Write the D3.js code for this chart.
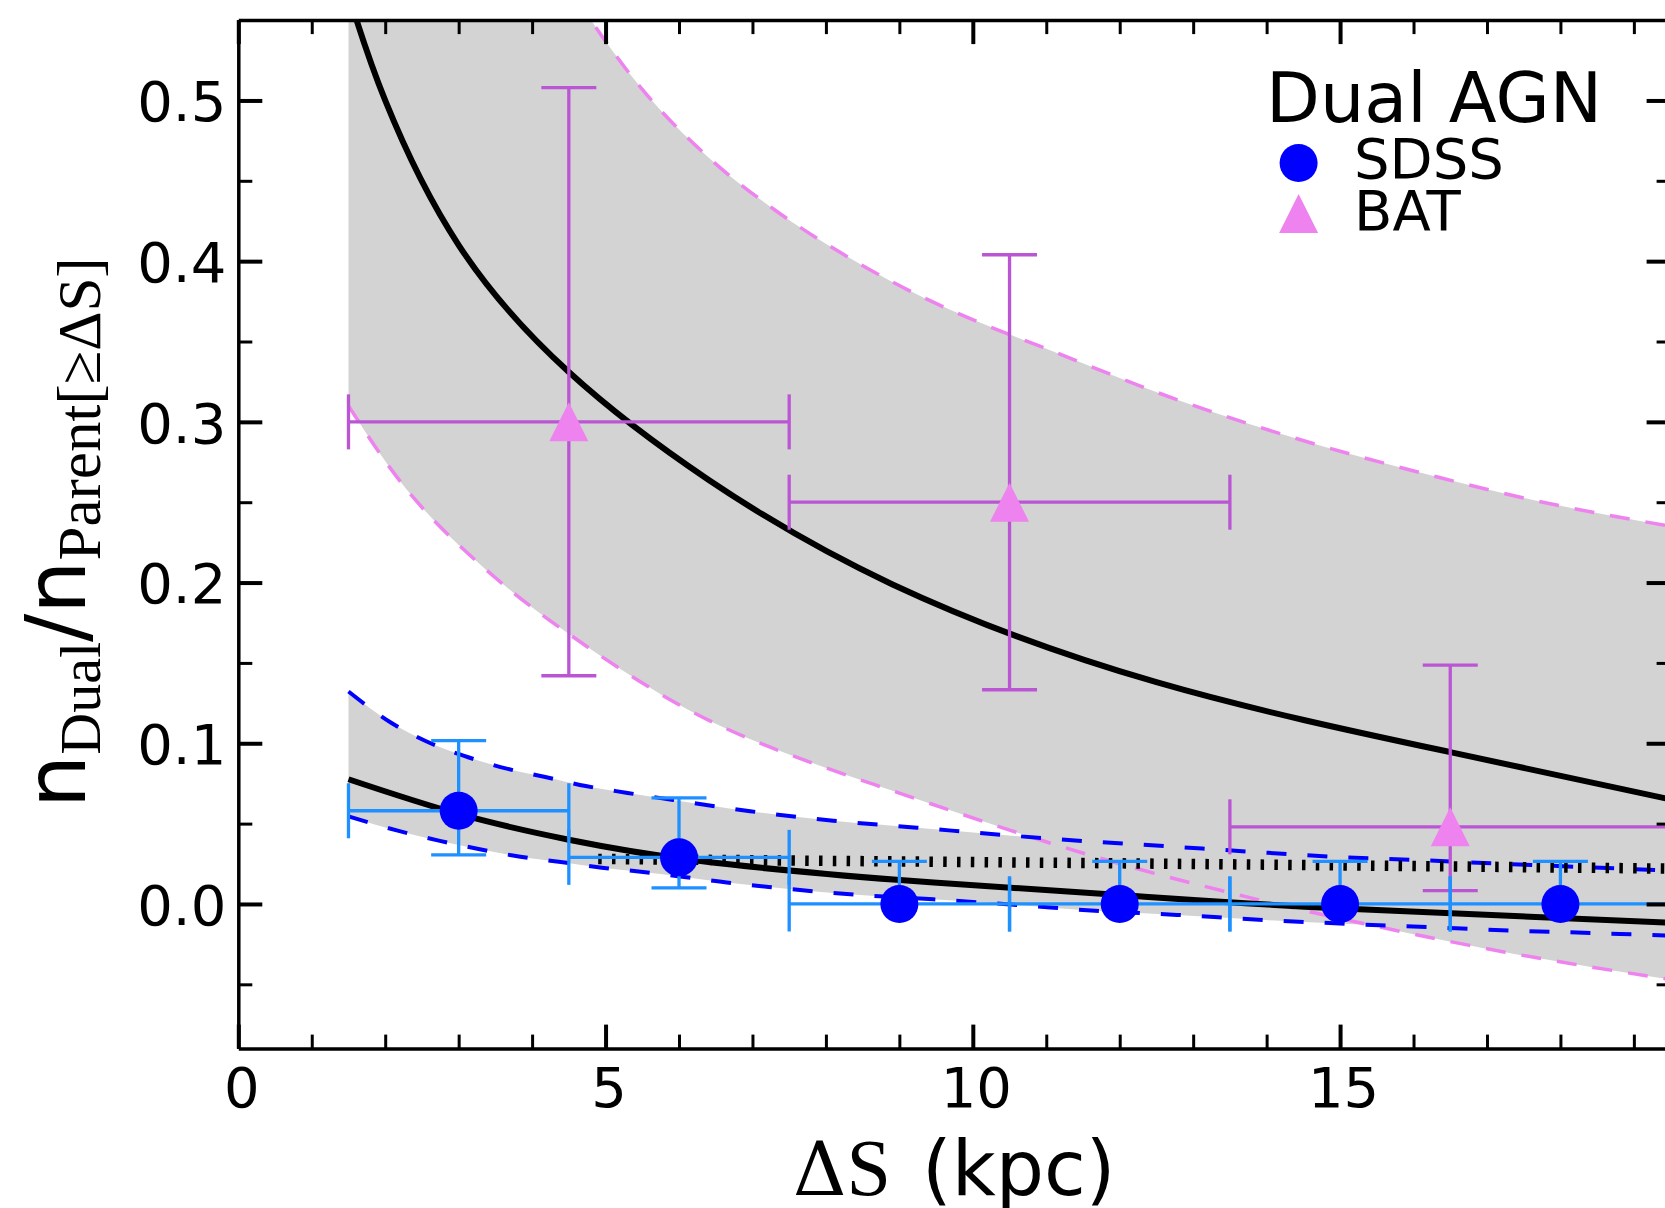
<!DOCTYPE html>
<html><head><meta charset="utf-8">
<script src="https://cdn.jsdelivr.net/npm/d3@7"></script>
<style>body{margin:0;background:#fff}svg{display:block}</style>
</head><body>
<svg id="c" width="1665" height="1208"></svg>
<script>
// ---------------- data ----------------
const sdssX = [3, 6, 9, 12, 15, 18];
const sdssY = [0.058, 0.029, 0, 0, 0, 0];
const sdssErrUp = [0.0437, 0.037, 0.0265, 0.0265, 0.0265, 0.0265];
const sdssErrDown = [0.0275, 0.019, 0, 0, 0, 0];
const sdssXErr = [1.5, 1.5, 1.5, 1.5, 1.5, 1.5];

const batX = [4.5, 10.5, 16.5];
const batY = [0.30, 0.25, 0.048];
const batErrUp = [0.208, 0.154, 0.1006];
const batErrDown = [0.158, 0.1167, 0.0397];
const batXErr = [3, 3, 3];

const batFitX = [1.5, 2.0, 3.0, 4.5, 6.4, 8.9, 12.5, 16.5, 19.5];
const batFitY = [0.566, 0.5, 0.41, 0.331, 0.264, 0.199, 0.138, 0.0945, 0.065];

const batBandHiX = [1.5, 2.0, 3.0, 4.0, 4.8, 5.48, 6.39, 7.3, 8.21, 9.12, 10.03, 10.94, 12.83, 14.45, 16.3, 17.66, 19.5];
const batBandHiY = [1.10, 0.90, 0.72, 0.61, 0.55, 0.508, 0.465, 0.432, 0.405, 0.382, 0.363, 0.3466, 0.313, 0.289, 0.266, 0.251, 0.235];
const batBandLoX = [1.5, 2.4, 3.5, 4.5, 6.0, 7.5, 9.0, 10.5, 12.0, 13.5, 15.0, 17.25, 19.5];
const batBandLoY = [0.31, 0.252, 0.203, 0.168, 0.124, 0.093, 0.069, 0.046, 0.025, 0.007, -0.009, -0.030, -0.047];

const sdssFitX = [1.5, 3.0, 4.5, 6.24, 9.01, 12.0, 14.95, 19.5];
const sdssFitY = [0.0776, 0.056, 0.040, 0.027, 0.0149, 0.0056, -0.0027, -0.0117];

const sdssBandHiX = [1.5, 2.07, 2.55, 3.13, 3.64, 4.18, 4.73, 5.30, 5.92, 6.97, 8.10, 9.24, 10.37, 11.50, 12.64, 13.75, 14.89, 16.02, 17.16, 18.29, 19.5];
const sdssBandHiY = [0.1322, 0.1131, 0.1014, 0.0913, 0.0844, 0.079, 0.0734, 0.0691, 0.0647, 0.0577, 0.0518, 0.0475, 0.0431, 0.0392, 0.0359, 0.0326, 0.0294, 0.0274, 0.0251, 0.023, 0.0207];
const sdssBandLoX = [1.5, 2.17, 2.73, 3.27, 3.84, 4.39, 4.95, 5.51, 6.04, 6.65, 7.22, 7.78, 8.33, 9.46, 10.6, 11.73, 12.78, 13.98, 15.11, 16.25, 17.38, 18.52, 19.5];
const sdssBandLoY = [0.0545, 0.0456, 0.0394, 0.0342, 0.0294, 0.0261, 0.0226, 0.0199, 0.017, 0.0133, 0.0106, 0.0081, 0.006, 0.0029, -0.0006, -0.0044, -0.0068, -0.01, -0.0124, -0.0145, -0.0166, -0.0182, -0.0197];

const dottedX = [4.9, 12.7, 19.5];
const dottedY = [0.0280, 0.0250, 0.0220];

const xMajorTicks = [0, 5, 10, 15];
const xMinorTicks = [1, 2, 3, 4, 6, 7, 8, 9, 11, 12, 13, 14, 16, 17, 18, 19];
const yMajorTicks = [0, 0.1, 0.2, 0.3, 0.4, 0.5];
const yMinorTicks = [-0.05, 0.05, 0.15, 0.25, 0.35, 0.45];
const legendTitle = "Dual AGN";
const legendLabels = ["SDSS", "BAT"];

// ---------------- drawing ----------------
const svg = d3.select("#c");
const x = d3.scaleLinear().domain([0, 19.5]).range([238.3, 1670.6]);
const y = d3.scaleLinear().domain([-0.09, 0.55]).range([1048.6, 20.1]);

svg.append("defs").append("clipPath").attr("id", "clip")
  .append("rect").attr("x", x(0)).attr("y", y(0.55))
  .attr("width", x(19.5) - x(0)).attr("height", y(-0.09) - y(0.55));
const plot = svg.append("g").attr("clip-path", "url(#clip)");

const pts = (xs, ys) => xs.map((v, i) => [v, ys[i]]);
const line = d3.line().x(d => x(d[0])).y(d => y(d[1])).curve(d3.curveMonotoneX);
const smooth = d3.line().x(d => x(d[0])).y(d => y(d[1])).curve(d3.curveNatural);
function band(up, lo, gu, gl) {
  const a = gu(up);
  const b = gl(lo.slice().reverse());
  return a + "L" + b.slice(1) + "Z";
}
const GRAY = "#d3d3d3";

// bands
plot.append("path").attr("d", band(pts(batBandHiX, batBandHiY), pts(batBandLoX, batBandLoY), line, smooth)).attr("fill", GRAY);
plot.append("path").attr("d", band(pts(sdssBandHiX, sdssBandHiY), pts(sdssBandLoX, sdssBandLoY), line, line)).attr("fill", GRAY);

// band edges
const dashedLine = (gen, xs, ys, color, w, dash) => plot.append("path").attr("d", gen(pts(xs, ys)))
  .attr("fill", "none").attr("stroke", color).attr("stroke-width", w).attr("stroke-dasharray", dash);
dashedLine(line, batBandHiX, batBandHiY, "#ee82ee", 3.5, "20 16");
dashedLine(smooth, batBandLoX, batBandLoY, "#ee82ee", 3.5, "20 16");
dashedLine(line, sdssBandHiX, sdssBandHiY, "#0000ff", 4, "20 21");
dashedLine(line, sdssBandLoX, sdssBandLoY, "#0000ff", 4, "20 21");

// fits
plot.append("path").attr("d", smooth(pts(batFitX, batFitY))).attr("fill", "none").attr("stroke", "#000").attr("stroke-width", 6);
plot.append("path").attr("d", smooth(pts(sdssFitX, sdssFitY))).attr("fill", "none").attr("stroke", "#000").attr("stroke-width", 6);
plot.append("path").attr("d", line(pts(dottedX, dottedY))).attr("fill", "none").attr("stroke", "#000")
  .attr("stroke-width", 10.5).attr("stroke-dasharray", "3.5 10.3");

// error bars
const CAP = 27.5;
function errorBars(xs, ys, up, down, xe, color) {
  const g = plot.append("g").attr("stroke", color).attr("stroke-width", 3.3).attr("fill", "none");
  xs.forEach((xv, i) => {
    const cx = x(xv), cy = y(ys[i]);
    const yt = y(ys[i] + up[i]), yb = y(ys[i] - down[i]);
    const xl = x(xv - xe[i]), xr = x(xv + xe[i]);
    g.append("line").attr("x1", xl).attr("x2", xr).attr("y1", cy).attr("y2", cy);
    g.append("line").attr("x1", cx).attr("x2", cx).attr("y1", yt).attr("y2", yb);
    g.append("line").attr("x1", xl).attr("x2", xl).attr("y1", cy - CAP).attr("y2", cy + CAP);
    g.append("line").attr("x1", xr).attr("x2", xr).attr("y1", cy - CAP).attr("y2", cy + CAP);
    g.append("line").attr("x1", cx - CAP).attr("x2", cx + CAP).attr("y1", yt).attr("y2", yt);
    if (down[i] > 0) g.append("line").attr("x1", cx - CAP).attr("x2", cx + CAP).attr("y1", yb).attr("y2", yb);
  });
}
const triPath = (cx, cy, s) => `M${cx},${cy - s}L${cx - s},${cy + s}L${cx + s},${cy + s}Z`;

errorBars(batX, batY, batErrUp, batErrDown, batXErr, "#ba55d3");
plot.append("g").selectAll("path").data(batX).join("path")
  .attr("d", (d, i) => triPath(x(d), y(batY[i]), 19.5)).attr("fill", "#ee82ee");

errorBars(sdssX, sdssY, sdssErrUp, sdssErrDown, sdssXErr, "#1e90ff");
plot.append("g").selectAll("circle").data(sdssX).join("circle")
  .attr("cx", d => x(d)).attr("cy", (d, i) => y(sdssY[i])).attr("r", 19).attr("fill", "#0000ff");

// axes
const FONT = "DejaVu Sans";
function styleAxis(g, w) {
  g.select(".domain").attr("stroke", "#000").attr("stroke-width", 3.5);
  g.selectAll(".tick line").attr("stroke", "#000").attr("stroke-width", w);
  g.selectAll("text").attr("font-family", FONT).attr("font-size", 56).attr("fill", "#000");
}
const yb = y(-0.09), yt = y(0.55), xl = x(0), xr = x(19.5);
// bottom
svg.append("g").attr("transform", `translate(0,${yb})`)
  .call(d3.axisBottom(x).tickValues(xMajorTicks).tickSize(-24).tickSizeOuter(0).tickPadding(18.6).tickFormat(d3.format("d")))
  .call(g => { styleAxis(g, 4); g.selectAll("text").attr("dx", 3); });
svg.append("g").attr("transform", `translate(0,${yb})`)
  .call(d3.axisBottom(x).tickValues(xMinorTicks).tickSize(-14).tickSizeOuter(0).tickFormat(""))
  .call(g => { styleAxis(g, 3); g.select(".domain").remove(); });
// top
svg.append("g").attr("transform", `translate(0,${yt})`)
  .call(d3.axisTop(x).tickValues(xMajorTicks).tickSize(-24).tickSizeOuter(0).tickFormat(""))
  .call(g => styleAxis(g, 4));
svg.append("g").attr("transform", `translate(0,${yt})`)
  .call(d3.axisTop(x).tickValues(xMinorTicks).tickSize(-14).tickSizeOuter(0).tickFormat(""))
  .call(g => { styleAxis(g, 3); g.select(".domain").remove(); });
// left
svg.append("g").attr("transform", `translate(${xl},0)`)
  .call(d3.axisLeft(y).tickValues(yMajorTicks).tickSize(-24).tickSizeOuter(0).tickPadding(12).tickFormat(d3.format(".1f")))
  .call(g => { styleAxis(g, 4); g.selectAll("text").attr("dy", "0.36em"); });
svg.append("g").attr("transform", `translate(${xl},0)`)
  .call(d3.axisLeft(y).tickValues(yMinorTicks).tickSize(-14).tickSizeOuter(0).tickFormat(""))
  .call(g => { styleAxis(g, 3); g.select(".domain").remove(); });
// right
svg.append("g").attr("transform", `translate(${xr},0)`)
  .call(d3.axisRight(y).tickValues(yMajorTicks).tickSize(-24).tickSizeOuter(0).tickFormat(""))
  .call(g => styleAxis(g, 4));
svg.append("g").attr("transform", `translate(${xr},0)`)
  .call(d3.axisRight(y).tickValues(yMinorTicks).tickSize(-14).tickSizeOuter(0).tickFormat(""))
  .call(g => { styleAxis(g, 3); g.select(".domain").remove(); });

// x label
const xlab = svg.append("text").attr("y", 1195).attr("fill", "#000");
xlab.append("tspan").attr("x", 793).attr("font-family", "DejaVu Serif").attr("font-size", 74).text("Δ");
xlab.append("tspan").attr("font-family", "Liberation Serif").attr("font-size", 80).text("S");
xlab.append("tspan").attr("x", 922).attr("font-family", FONT).attr("font-size", 76).text("(kpc)");

// y label
const ylab = svg.append("text").attr("transform", "translate(85,808) rotate(-90)").attr("fill", "#000");
ylab.append("tspan").attr("font-family", FONT).attr("font-size", 84).text("n");
ylab.append("tspan").attr("font-family", "Liberation Serif").attr("font-size", 58).attr("dy", 15).text("Dual");
ylab.append("tspan").attr("font-family", FONT).attr("font-size", 84).attr("dy", -15).text("/n");
ylab.append("tspan").attr("font-family", "Liberation Serif").attr("font-size", 61).attr("dy", 15).text("Parent[≥ΔS]");

// legend
svg.append("text").attr("x", 1266).attr("y", 122).attr("font-family", FONT).attr("font-size", 70).attr("fill", "#000").text(legendTitle);
svg.append("circle").attr("cx", 1298.6).attr("cy", 163).attr("r", 19).attr("fill", "#0000ff");
svg.append("path").attr("d", triPath(1298.6, 213.5, 19.5)).attr("fill", "#ee82ee");
svg.append("text").attr("x", 1354).attr("y", 178).attr("font-family", FONT).attr("font-size", 56).attr("fill", "#000").text(legendLabels[0]);
svg.append("text").attr("x", 1354).attr("y", 230).attr("font-family", FONT).attr("font-size", 56).attr("fill", "#000").text(legendLabels[1]);
</script>
</body></html>
